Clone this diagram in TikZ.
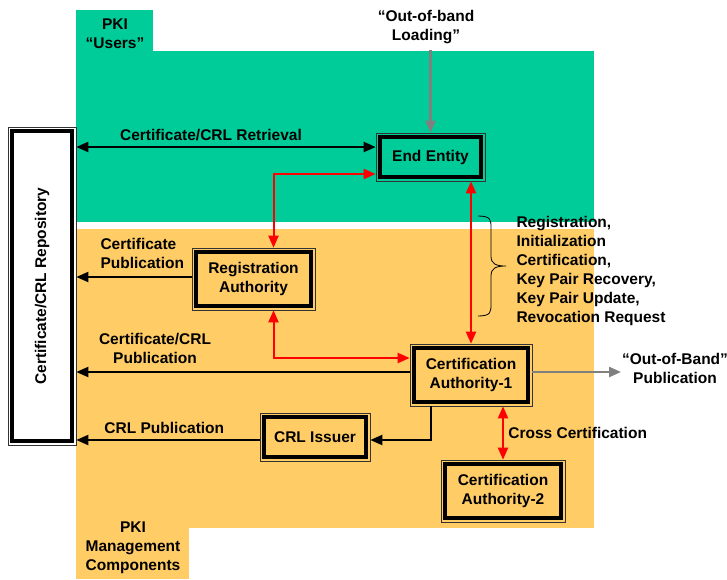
\documentclass[tikz,border=0pt]{standalone}
\usepackage{fontspec}
\setmainfont{Liberation Sans}
\usepackage{tikz}
\usetikzlibrary{arrows.meta,calc,positioning}
\definecolor{gruen}{RGB}{0,204,153}
\definecolor{hellorange}{RGB}{255,204,102}
\definecolor{grau}{RGB}{128,128,128}
\definecolor{rot}{RGB}{255,0,0}

\begin{document}
\begin{tikzpicture}[x=1pt,y=-1pt,
  font=\fontsize{15.5}{19}\selectfont\bfseries,
  >={Triangle[length=12pt,width=10pt]},
  kasten/.style={draw=black!80, line width=0.6pt, align=center, inner sep=0pt,
    path picture={\draw[line width=3.5pt,black]
      ([shift={(4pt,-4pt)}]path picture bounding box.north west) rectangle
      ([shift={(-4pt,4pt)}]path picture bounding box.south east);}},
  schwarz/.style={line width=2pt,black},
  rotpfeil/.style={line width=2pt,rot},
  graupfeil/.style={line width=2.4pt,grau}]
\useasboundingbox (0,0) rectangle (727,579);
%Hintergrund: oben die Nutzer, unten die Verwaltung
\fill[gruen] (76,10) rectangle (153,51);
\fill[gruen] (76,51) rectangle (594,222);
\fill[hellorange] (76,229) rectangle (594,528);
\fill[hellorange] (76,528) rectangle (189,579);
%Kaesten
\node[kasten,fill=white,minimum width=68pt,minimum height=318pt] (repo) at (42,286) {};
\node[rotate=90] (repotext) at (repo) {Certificate/CRL Repository};
\node[kasten,fill=gruen,minimum width=109pt,minimum height=48pt] (ee) at (430.5,157) {End Entity};
\node[kasten,fill=hellorange,minimum width=123pt,minimum height=62pt] (ra) at (253.5,279) {Registration\\Authority};
\node[kasten,fill=hellorange,minimum width=122pt,minimum height=62pt] (ca1) at (471,375) {Certification\\Authority-1};
\node[kasten,fill=hellorange,minimum width=110pt,minimum height=48pt] (crl) at (315,437) {CRL Issuer};
\node[kasten,fill=hellorange,minimum width=124pt,minimum height=62pt] (ca2) at (503,491) {Certification\\Authority-2};
%Texte
\node[align=center] (nutzer) at (115,34) {PKI\\“Users”};
\node[align=center] (verwaltung) at (133,548) {PKI\\Management\\Components};
\node[align=center] (laden) at (426,27) {“Out-of-band\\Loading”};
\node[align=center] (bandtext) at (675,368) {“Out-of-Band”\\Publication};
\node[anchor=west,align=left] (auftrag) at (513,271) {Registration,\\Initialization\\Certification,\\Key Pair Recovery,\\Key Pair Update,\\Revocation Request};
%Verbindungen
\coordinate (retr) at ([yshift=10pt]ee.west);
\draw[schwarz,<->] (retr) -- node[pos=0.55,above=2pt] {Certificate/CRL Retrieval} (repo.east |- retr);
\coordinate (certpub) at ([yshift=2pt]ra.west);
\draw[schwarz,->] (certpub) -- (repo.east |- certpub);
\node[anchor=west,align=left] (certpubtext) at (97,253) {Certificate\\Publication};
\coordinate (capub) at ([yshift=3pt]ca1.west);
\draw[schwarz,->] (capub) -- (repo.east |- capub);
\node[align=center] (capubtext) at (155,348) {Certificate/CRL\\Publication};
\coordinate (crlpub) at ([yshift=-3pt]crl.west);
\draw[schwarz,->] (crlpub) -- node[pos=0.52,above=2pt] {CRL Publication} (repo.east |- crlpub);
\draw[schwarz,->] ([xshift=-40pt]ca1.south) |- ([yshift=-3pt]crl.east);
\draw[rotpfeil,<->] ([yshift=-17pt]ee.west) -| ([xshift=20pt]ra.north);
\draw[rotpfeil,<->] ([xshift=20pt]ra.south) |- ([yshift=17pt]ca1.west);
\draw[rotpfeil,<->] (ca1.north |- ee.south) -- (ca1.north);
\draw[rotpfeil,<->] (ca2.north |- ca1.south) -- node[right=1pt,text=black] {Cross Certification} (ca2.north);
\draw[graupfeil,->] (ee.north |- 0,50) -- (ee.north);
\coordinate (bandaus) at (621,372);
\draw[graupfeil,->] (ca1.east |- bandaus) -- (bandaus);
%Klammer
\draw[line width=0.8pt] (478,216) .. controls (491,216) and (491,220) .. (491,228) -- (491,256)
  .. controls (491,264) and (496,266) .. (506,266) .. controls (496,266) and (491,268) .. (491,276)
  -- (491,304) .. controls (491,312) and (491,316) .. (478,316);
\end{tikzpicture}
\end{document}
